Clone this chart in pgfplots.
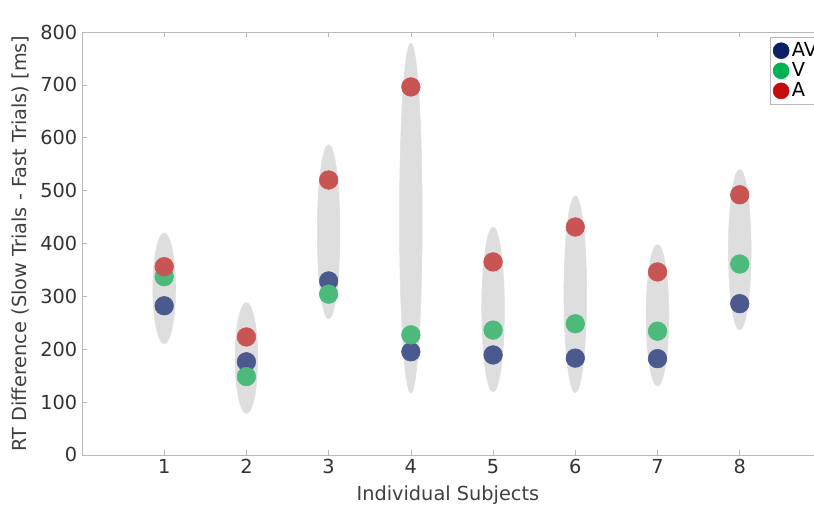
\documentclass[border=0pt]{standalone}
\usepackage{fontspec}
\setmainfont{DejaVu Sans}
\usepackage{pgfplots}
\pgfplotsset{compat=1.18}
\usepackage{pgfplotstable}

% marker colours in the plot (muted) and in the legend (saturated)
\definecolor{avc}{RGB}{74,90,142}
\definecolor{vc}{RGB}{76,186,122}
\definecolor{ac}{RGB}{201,84,84}
\definecolor{avl}{RGB}{12,32,102}
\definecolor{vl}{RGB}{0,178,82}
\definecolor{al}{RGB}{196,12,12}
\definecolor{oval}{RGB}{222,222,222}

% oval centre and half height per subject
\pgfplotstableread{
x c h
1 315 105
2 183 105
3 422 165
4 448 331
5 275 156
6 304 186
7 264 134
8 388 152
}\ovals

\pgfplotstableread{
x av v a
1 282 337 356
2 176 148 223
3 329 304 520
4 195 227 696
5 189 236 365
6 183 248 431
7 182 234 346
8 286 361 492
}\subj

\begin{document}
\begin{tikzpicture}
\begin{axis}[
    scale only axis,
    width=549pt, height=317.25pt,
    xmin=0, xmax=8.9, ymin=0, ymax=800,
    axis x line*=box, axis y line*=left,
    xtick={1,2,3,4,5,6,7,8},
    ytick={0,100,200,300,400,500,600,700,800},
    axis line style={gray!55},
    tick style={gray!55, thin},
    tick align=inside,
    major tick length=4pt,
    xlabel={Individual Subjects},
    ylabel={RT Difference (Slow Trials - Fast Trials) [ms]},
    label style={font=\fontsize{14.5}{17}\selectfont, text=black!75},
    xlabel style={yshift=-1.5pt},
    ylabel style={yshift=2pt},
    ticklabel style={font=\fontsize{14.5}{17}\selectfont, text=black!80},
    /pgf/number format/assume math mode=true,
    legend style={at={(0.9405,0.988)}, anchor=north west, draw=gray!55, overlay,
        font=\fontsize{14.5}{17}\selectfont, inner sep=2pt, row sep=-1pt},
    legend cell align=left,
]
\addplot[scatter, only marks, mark=*, forget plot,
    visualization depends on={\thisrow{h}\as\hr},
    scatter/@pre marker code/.code={%
        \fill[oval] (0,0) ellipse [x radius=8.5pt, y radius=\hr*0.39656pt];
        \scope[opacity=0]},
    scatter/@post marker code/.code={\endscope}]
    table[x=x, y=c] {\ovals};

\addplot[only marks, mark=*, mark size=7pt, color=avc, forget plot] table[x=x, y=av] {\subj};
\addplot[only marks, mark=*, mark size=7pt, color=vc, forget plot] table[x=x, y=v] {\subj};
\addplot[only marks, mark=*, mark size=7pt, color=ac, forget plot] table[x=x, y=a] {\subj};

\addlegendimage{only marks, mark=*, mark size=6pt, color=avl}
\addlegendentry{AV}
\addlegendimage{only marks, mark=*, mark size=6pt, color=vl}
\addlegendentry{V}
\addlegendimage{only marks, mark=*, mark size=6pt, color=al}
\addlegendentry{A}
\end{axis}
% page margins round the axis, as in the reference
\path (current axis.north west) ++(0,24pt);
\path (current axis.south west) ++(-61.5pt,-39.75pt);
\end{tikzpicture}
\end{document}
